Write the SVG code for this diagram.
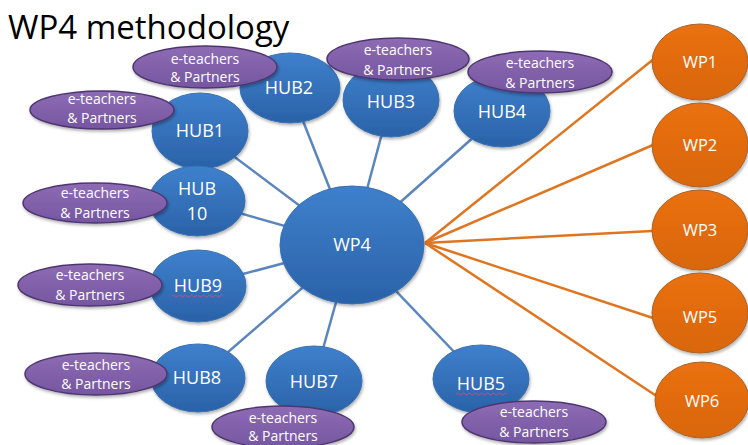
<svg xmlns="http://www.w3.org/2000/svg" width="748" height="445" viewBox="0 0 748 445">
<defs>
<linearGradient id="gBlue" x1="0" y1="0" x2="0" y2="1">
<stop offset="0" stop-color="#3f80cc"/>
<stop offset="1" stop-color="#2a62a8"/>
</linearGradient>
<linearGradient id="gPurple" x1="0" y1="0" x2="0" y2="1">
<stop offset="0" stop-color="#8e6cb4"/>
<stop offset="1" stop-color="#7556a0"/>
</linearGradient>
<linearGradient id="gOrange" x1="0" y1="0" x2="0" y2="1">
<stop offset="0" stop-color="#ea7012"/>
<stop offset="1" stop-color="#d9660c"/>
</linearGradient>
<filter id="sh" x="-20%" y="-20%" width="140%" height="150%">
<feDropShadow dx="1" dy="2" stdDeviation="1.5" flood-color="#000" flood-opacity="0.3"/>
</filter>
</defs>
<style>
.hub{fill:url(#gBlue);stroke:#3a70b0;stroke-width:1;filter:url(#sh)}
.prt{fill:url(#gPurple);stroke:#4e3670;stroke-width:1.5;filter:url(#sh)}
.wp{fill:url(#gOrange);stroke:#a8642a;stroke-width:1;filter:url(#sh)}
.ht{font-family:"Open Sans","Liberation Sans",sans-serif;font-size:18px;fill:#ffffff;text-anchor:middle}
.pt{font-family:"Open Sans","Liberation Sans",sans-serif;font-size:14px;fill:#ffffff;text-anchor:middle}
.wt{font-family:"Open Sans","Liberation Sans",sans-serif;font-size:16.5px;fill:#ffffff;text-anchor:middle}
.bl{stroke:#5b86bd;stroke-width:2.5;fill:none}
.ol{stroke:#e07520;stroke-width:2.5;fill:none}
.sq{stroke:#c05080;stroke-width:1;fill:none}
</style>
<rect width="748" height="445" fill="#ffffff"/>
<text x="8" y="39" font-family="Open Sans,Liberation Sans,sans-serif" font-size="33" fill="#000">WP4 methodology</text>
<g id="connectors">
<line class="bl" x1="352" y1="245" x2="200" y2="131"/>
<line class="bl" x1="352" y1="245" x2="290" y2="88"/>
<line class="bl" x1="352" y1="245" x2="391" y2="100"/>
<line class="bl" x1="352" y1="245" x2="502" y2="112"/>
<line class="bl" x1="352" y1="245" x2="197" y2="201"/>
<line class="bl" x1="352" y1="245" x2="198" y2="286"/>
<line class="bl" x1="352" y1="245" x2="198" y2="378"/>
<line class="bl" x1="352" y1="245" x2="314" y2="381"/>
<line class="bl" x1="352" y1="245" x2="481" y2="380"/>
<line class="ol" x1="425" y1="243" x2="655" y2="58"/>
<line class="ol" x1="425" y1="243" x2="653" y2="145"/>
<line class="ol" x1="425" y1="243" x2="652" y2="231"/>
<line class="ol" x1="425" y1="243" x2="653" y2="318"/>
<line class="ol" x1="425" y1="243" x2="658" y2="397"/>
</g>
<g id="wp4"><ellipse class="hub" cx="352" cy="245" rx="72" ry="59"/><text class="ht" x="352" y="251">WP4</text></g>
<g id="hub1"><ellipse class="hub" cx="200" cy="131" rx="48" ry="38"/><text class="ht" x="200" y="137">HUB1</text></g>
<g id="hub2"><ellipse class="hub" cx="290" cy="88" rx="50" ry="35"/><text class="ht" x="289" y="94">HUB2</text></g>
<g id="hub3"><ellipse class="hub" cx="391" cy="100" rx="48" ry="37"/><text class="ht" x="391" y="108">HUB3</text></g>
<g id="hub4"><ellipse class="hub" cx="502" cy="111" rx="48" ry="36"/><text class="ht" x="502" y="118">HUB4</text></g>
<g id="hub10"><ellipse class="hub" cx="197" cy="201" rx="48" ry="35"/><text class="ht" x="197" y="195">HUB</text><text class="ht" x="197" y="220">10</text></g>
<g id="hub9"><ellipse class="hub" cx="198" cy="286" rx="48" ry="36"/><text class="ht" x="198" y="292">HUB9</text><path class="sq" d="M172 296 q1.5 -2 3 0 t3 0 t3 0 t3 0 t3 0 t3 0 t3 0 t3 0 t3 0 t3 0 t3 0 t3 0 t3 0 t3 0 t3 0 t3 0 t3 0"/></g>
<g id="hub8"><ellipse class="hub" cx="198" cy="378" rx="47" ry="34"/><text class="ht" x="197" y="384">HUB8</text></g>
<g id="hub7"><ellipse class="hub" cx="314" cy="381" rx="48" ry="35"/><text class="ht" x="314" y="388">HUB7</text></g>
<g id="hub5"><ellipse class="hub" cx="481" cy="379" rx="48" ry="34"/><text class="ht" x="481" y="390">HUB5</text><path class="sq" d="M456 394 q1.5 -2 3 0 t3 0 t3 0 t3 0 t3 0 t3 0 t3 0 t3 0 t3 0 t3 0 t3 0 t3 0 t3 0 t3 0 t3 0 t3 0 t3 0"/></g>
<g id="p-hub2"><ellipse class="prt" cx="205" cy="67" rx="72" ry="21"/><text class="pt" x="205" y="64">e-teachers</text><text class="pt" x="205" y="82">&amp; Partners</text></g>
<g id="p-hub1"><ellipse class="prt" cx="102" cy="110" rx="72" ry="19"/><text class="pt" x="102" y="104">e-teachers</text><text class="pt" x="102" y="123">&amp; Partners</text></g>
<g id="p-hub3"><ellipse class="prt" cx="398" cy="59" rx="71" ry="21"/><text class="pt" x="398" y="55">e-teachers</text><text class="pt" x="398" y="75">&amp; Partners</text></g>
<g id="p-hub4"><ellipse class="prt" cx="540" cy="72" rx="72" ry="21"/><text class="pt" x="540" y="68">e-teachers</text><text class="pt" x="540" y="88">&amp; Partners</text></g>
<g id="p-hub10"><ellipse class="prt" cx="95" cy="203" rx="72" ry="20"/><text class="pt" x="95" y="198">e-teachers</text><text class="pt" x="95" y="218">&amp; Partners</text></g>
<g id="p-hub9"><ellipse class="prt" cx="90" cy="285" rx="72" ry="21"/><text class="pt" x="90" y="280">e-teachers</text><text class="pt" x="90" y="300">&amp; Partners</text></g>
<g id="p-hub8"><ellipse class="prt" cx="96" cy="374" rx="71" ry="21"/><text class="pt" x="96" y="370">e-teachers</text><text class="pt" x="96" y="389">&amp; Partners</text></g>
<g id="p-hub7"><ellipse class="prt" cx="283" cy="427" rx="71" ry="21"/><text class="pt" x="283" y="423">e-teachers</text><text class="pt" x="283" y="441">&amp; Partners</text></g>
<g id="p-hub5"><ellipse class="prt" cx="534" cy="422" rx="72" ry="21"/><text class="pt" x="534" y="417">e-teachers</text><text class="pt" x="534" y="437">&amp; Partners</text></g>
<g id="wp1"><ellipse class="wp" cx="700" cy="62" rx="48" ry="38"/><text class="wt" x="700" y="68">WP1</text></g>
<g id="wp2"><ellipse class="wp" cx="700" cy="145" rx="48" ry="42"/><text class="wt" x="700" y="151">WP2</text></g>
<g id="wp3"><ellipse class="wp" cx="700" cy="230" rx="48" ry="40"/><text class="wt" x="700" y="236">WP3</text></g>
<g id="wp5"><ellipse class="wp" cx="700" cy="313" rx="48" ry="40"/><text class="wt" x="700" y="323">WP5</text></g>
<g id="wp6"><ellipse class="wp" cx="702" cy="400" rx="47" ry="38"/><text class="wt" x="702" y="407">WP6</text></g>
</svg>
